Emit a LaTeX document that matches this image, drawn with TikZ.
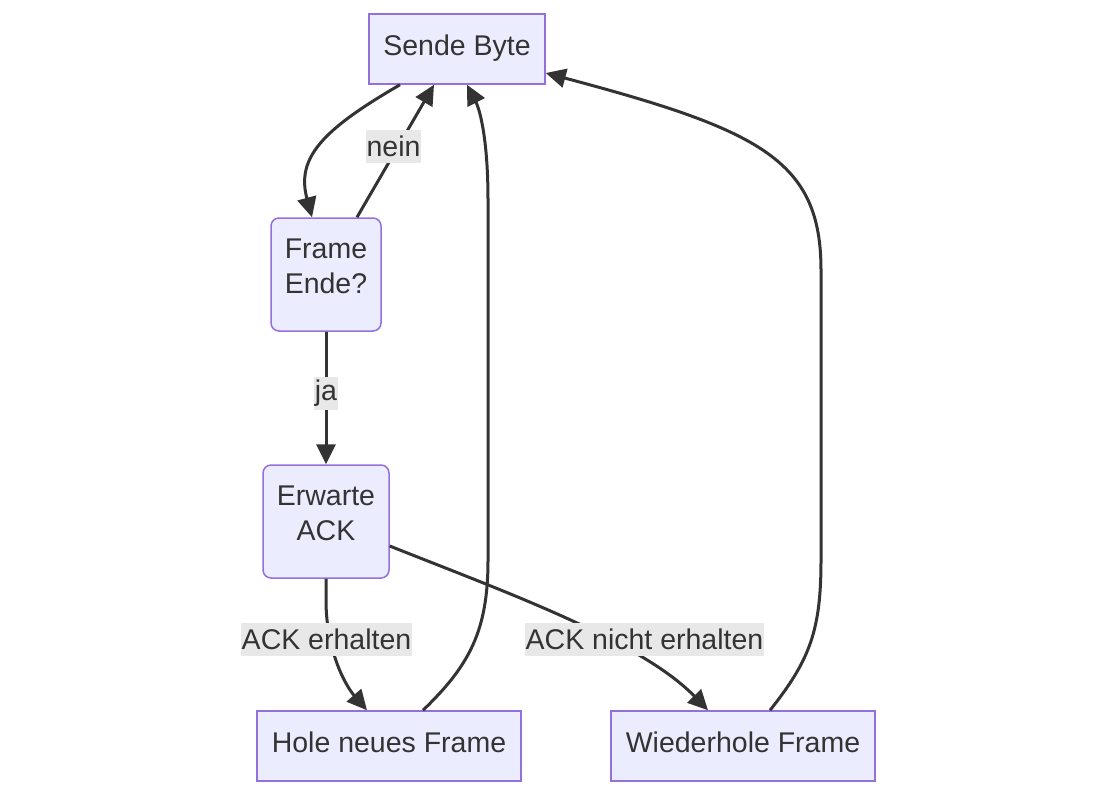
\documentclass[tikz,border=0pt]{standalone}
\usepackage{fontspec}
\setmainfont{Liberation Sans}
\usetikzlibrary{arrows.meta}
\definecolor{nodefill}{HTML}{ECECFF}
\definecolor{nodeline}{HTML}{9370DB}
\definecolor{txt}{HTML}{333333}
\definecolor{edge}{HTML}{333333}
\definecolor{lblbg}{HTML}{E8E8E8}
\newcommand\myone[1]{\raisebox{-6pt}[0pt][0pt]{#1}}
\newcommand\mytwo[2]{\raisebox{16.5pt}[0pt][0pt]{\begin{tabular}[t]{@{}c@{}}#1\\#2\end{tabular}}}
\begin{document}
\begin{tikzpicture}[x=1pt,y=-1pt,
  box/.style={draw=nodeline,fill=nodefill,line width=1.5pt,text=txt,inner sep=0pt,
    font=\fontsize{28.5}{35}\selectfont},
  rbox/.style={box,rounded corners=8pt},
  conn/.style={draw=edge,line width=3pt,-{Triangle[length=20pt,width=19pt]}},
  lbl/.style={fill=lblbg,text=txt,inner xsep=1pt,inner ysep=0pt,minimum height=33pt,
    font=\fontsize{28.5}{35}\selectfont}]
\useasboundingbox (0,0) rectangle (1116,796);
\node[box,minimum width=176pt,minimum height=70pt] (sb) at (457,49) {\myone{Sende Byte}};
\node[rbox,minimum width=110pt,minimum height=113pt] (fe) at (326,274.5) {\mytwo{Frame}{Ende?}};
\node[rbox,minimum width=126pt,minimum height=113pt] (ea) at (326,521.5) {\mytwo{Erwarte}{ACK}};
\node[box,minimum width=264pt,minimum height=70pt] (hn) at (389,746) {\myone{Hole neues Frame}};
\node[box,minimum width=264pt,minimum height=70pt] (wf) at (743,746) {\myone{Wiederhole Frame}};
% edges
\draw[conn] ([xshift=-57pt]sb.south) .. controls (322,130) and (296,158) .. ([xshift=-14pt]fe.north);
\draw[conn] ([xshift=31pt]fe.north) -- ([xshift=-23pt]sb.south);
\draw[conn] (fe.south) -- (ea.north);
\draw[conn] (ea.south) -- (326,600) .. controls (326,650) and (345,685) .. ([xshift=-22pt]hn.north);
\draw[conn] ([yshift=-24.5pt]ea.east) .. controls (500,590) and (640,640) .. ([xshift=-35pt]wf.north);
\draw[conn] ([xshift=34pt]hn.north) .. controls (470,665) and (488,630) .. (488,560) -- (488,200) .. controls (488,140) and (480,110) .. ([xshift=10pt]sb.south);
\draw[conn] ([xshift=27pt]wf.north) .. controls (810,660) and (821,630) .. (821,560) -- (821,270) .. controls (821,160) and (760,130) .. ([yshift=-24pt]sb.east);
% labels
\node[lbl] (l1) at (393.5,146.5) {nein};
\node[lbl] (l2) at (326,393) {ja};
\node[lbl] (l3) at (326.5,639.5) {ACK erhalten};
\node[lbl] (l4) at (644.5,639.5) {ACK nicht erhalten};
\end{tikzpicture}
\end{document}
